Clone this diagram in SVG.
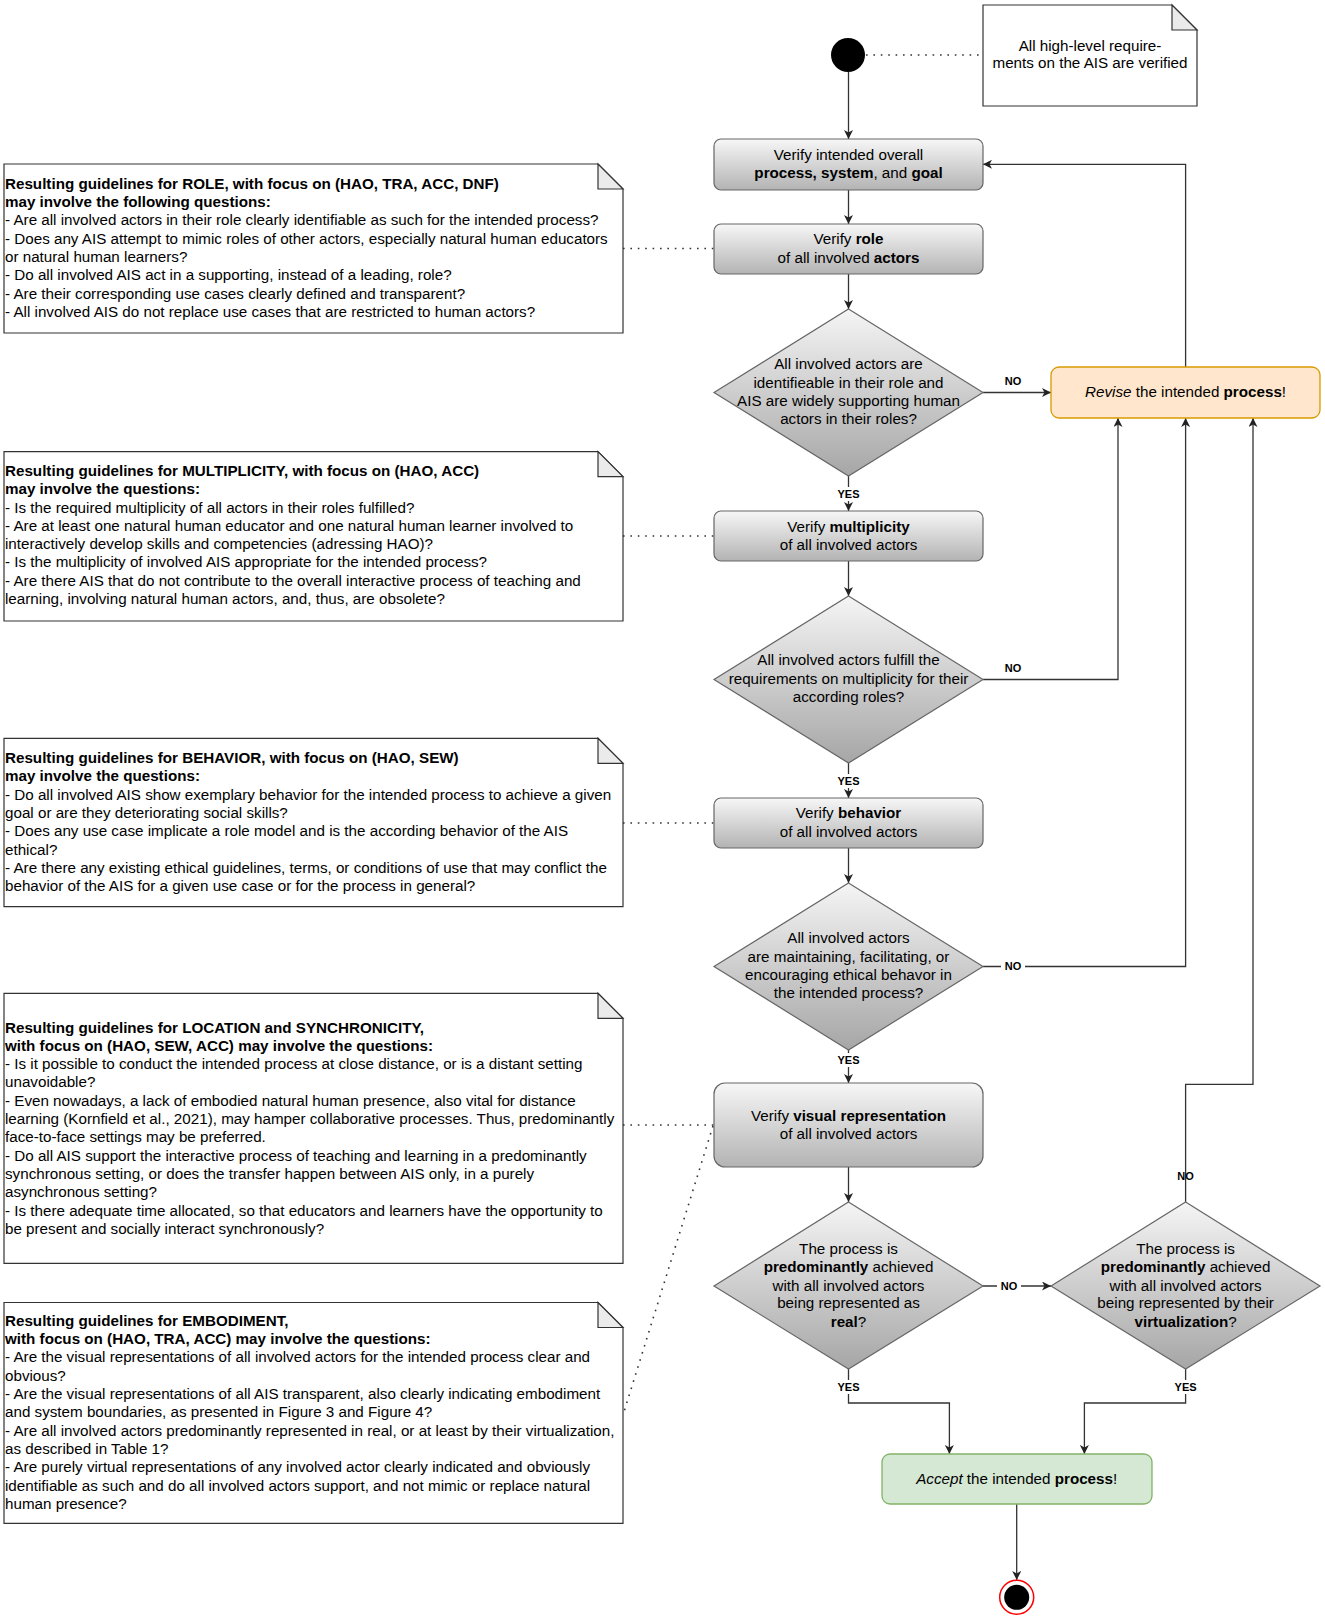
<svg xmlns="http://www.w3.org/2000/svg" width="1325" height="1619" viewBox="0 0 1325 1619">
<defs>
<linearGradient id="gBox" x1="0" y1="0" x2="0" y2="1">
<stop offset="0" stop-color="#f7f7f7"/>
<stop offset="1" stop-color="#b3b3b3"/>
</linearGradient>
<linearGradient id="gDia" x1="0" y1="0" x2="0" y2="1">
<stop offset="0" stop-color="#f5f5f5"/>
<stop offset="1" stop-color="#a6a6a6"/>
</linearGradient>
<marker id="arr" markerUnits="userSpaceOnUse" markerWidth="10" markerHeight="9" refX="9" refY="4.5" orient="auto">
<path d="M0,0 L9,4.5 L0,9 L2.5,4.5 Z" fill="#222"/>
</marker>
<style>
.t{font-family:"Liberation Sans",Arial,Helvetica,sans-serif;font-size:15.2px;fill:#000}
.c{text-anchor:middle}
.b{font-weight:bold}
.i{font-style:italic}
.lbl{font-family:"Liberation Sans",Arial,Helvetica,sans-serif;font-size:11px;font-weight:bold;text-anchor:middle;fill:#000}
.box{fill:url(#gBox);stroke:#666;stroke-width:1.2}
.dia{fill:url(#gDia);stroke:#666;stroke-width:1.2}
.note{fill:#fff;stroke:#333;stroke-width:1.2}
.fold{fill:#ebebeb;stroke:#333;stroke-width:1.2}
.conn{fill:none;stroke:#333;stroke-width:1.3}
.dot{fill:none;stroke:#333;stroke-width:1.6;stroke-dasharray:1.6 5.8}
.lb{fill:#fff}
</style>
</defs>
<rect width="1325" height="1619" fill="#fff"/>

<g id="connectors">
<path class="conn" d="M848.5,72 V139" marker-end="url(#arr)"/>
<path class="conn" d="M848.5,190 V224" marker-end="url(#arr)"/>
<path class="conn" d="M848.5,274 V309" marker-end="url(#arr)"/>
<path class="conn" d="M848.5,476 V511" marker-end="url(#arr)"/>
<path class="conn" d="M983,392.5 H1051" marker-end="url(#arr)"/>
<path class="conn" d="M1185.6,367 V164.3 H983" marker-end="url(#arr)"/>
<path class="conn" d="M848.5,561 V596" marker-end="url(#arr)"/>
<path class="conn" d="M983,679.5 H1118 V418" marker-end="url(#arr)"/>
<path class="conn" d="M848.5,763 V798" marker-end="url(#arr)"/>
<path class="conn" d="M848.5,848 V883" marker-end="url(#arr)"/>
<path class="conn" d="M983,966.5 H1185.6 V418" marker-end="url(#arr)"/>
<path class="conn" d="M848.5,1050 V1083" marker-end="url(#arr)"/>
<path class="conn" d="M848.5,1167 V1202" marker-end="url(#arr)"/>
<path class="conn" d="M983,1286 H1051" marker-end="url(#arr)"/>
<path class="conn" d="M1185.6,1202 V1084.3 H1253 V418" marker-end="url(#arr)"/>
<path class="conn" d="M848.5,1369 V1403 H949.4 V1454" marker-end="url(#arr)"/>
<path class="conn" d="M1185.6,1369 V1403 H1084.4 V1454" marker-end="url(#arr)"/>
<path class="conn" d="M1016.7,1504 V1580" marker-end="url(#arr)"/>
<path class="dot" d="M866,55 H983"/>
<path class="dot" d="M623,248.5 H714"/>
<path class="dot" d="M623,536 H714"/>
<path class="dot" d="M623,823 H714"/>
<path class="dot" d="M623,1125 H714"/>
<path class="dot" d="M713,1126 L623,1415"/>
<text class="lbl" x="1013" y="385">NO</text>
<rect class="lb" x="833" y="487" width="31" height="14"/>
<text class="lbl" x="848.5" y="498">YES</text>
<text class="lbl" x="1013" y="672">NO</text>
<rect class="lb" x="833" y="774" width="31" height="14"/>
<text class="lbl" x="848.5" y="785">YES</text>
<rect class="lb" x="1001" y="959" width="24" height="14"/>
<text class="lbl" x="1013" y="970">NO</text>
<rect class="lb" x="833" y="1053" width="31" height="14"/>
<text class="lbl" x="848.5" y="1064">YES</text>
<rect class="lb" x="997" y="1279" width="24" height="14"/>
<text class="lbl" x="1009" y="1290">NO</text>
<text class="lbl" x="1185.6" y="1180">NO</text>
<rect class="lb" x="833" y="1380" width="31" height="14"/>
<text class="lbl" x="848.5" y="1391">YES</text>
<rect class="lb" x="1170" y="1380" width="31" height="14"/>
<text class="lbl" x="1185.6" y="1391">YES</text>
</g>

<g id="start">
<circle cx="848" cy="55" r="17" fill="#000"/>
</g>

<g id="note-top">
<path class="note" d="M983,5 H1172 L1197,30 V106 H983 Z"/>
<path class="fold" d="M1172,5 V30 H1197 Z"/>
<text class="t c" x="1090" y="50.7">All high-level require-</text>
<text class="t c" x="1090" y="68">ments on the AIS are verified</text>
</g>

<g id="box-overall">
<rect class="box" x="714" y="139" width="269" height="51" rx="7"/>
<text class="t c" x="848.5" y="160">Verify intended overall</text>
<text class="t c" x="848.5" y="178.3"><tspan class="b">process, system</tspan>, and <tspan class="b">goal</tspan></text>
</g>

<g id="box-role">
<rect class="box" x="714" y="224" width="269" height="50" rx="7"/>
<text class="t c" x="848.5" y="244.3">Verify <tspan class="b">role</tspan></text>
<text class="t c" x="848.5" y="262.7">of all involved <tspan class="b">actors</tspan></text>
</g>

<g id="dec-role">
<polygon class="dia" points="848.5,309 983,392.5 848.5,476 714,392.5"/>
<text class="t c" x="848.5" y="369">All involved actors are</text>
<text class="t c" x="848.5" y="387.7">identifieable in their role and</text>
<text class="t c" x="848.5" y="406">AIS are widely supporting human</text>
<text class="t c" x="848.5" y="424.3">actors in their roles?</text>
</g>

<g id="revise">
<rect x="1051" y="367" width="269" height="51" rx="8" fill="#ffe6cc" stroke="#d79b00" stroke-width="1.3"/>
<text class="t c" x="1185.6" y="397.3"><tspan class="i">Revise</tspan> the intended <tspan class="b">process</tspan>!</text>
</g>

<g id="box-mult">
<rect class="box" x="714" y="511" width="269" height="50" rx="7"/>
<text class="t c" x="848.5" y="531.7">Verify <tspan class="b">multiplicity</tspan></text>
<text class="t c" x="848.5" y="550">of all involved actors</text>
</g>

<g id="dec-mult">
<polygon class="dia" points="848.5,596 983,679.5 848.5,763 714,679.5"/>
<text class="t c" x="848.5" y="665.3">All involved actors fulfill the</text>
<text class="t c" x="848.5" y="684">requirements on multiplicity for their</text>
<text class="t c" x="848.5" y="702.3">according roles?</text>
</g>

<g id="box-beh">
<rect class="box" x="714" y="798" width="269" height="50" rx="7"/>
<text class="t c" x="848.5" y="818.3">Verify <tspan class="b">behavior</tspan></text>
<text class="t c" x="848.5" y="836.7">of all involved actors</text>
</g>

<g id="dec-beh">
<polygon class="dia" points="848.5,883 983,966.5 848.5,1050 714,966.5"/>
<text class="t c" x="848.5" y="943.3">All involved actors</text>
<text class="t c" x="848.5" y="962">are maintaining, facilitating, or</text>
<text class="t c" x="848.5" y="980.3">encouraging ethical behavor in</text>
<text class="t c" x="848.5" y="998.3">the intended process?</text>
</g>

<g id="box-vis">
<rect class="box" x="714" y="1083" width="269" height="84" rx="11"/>
<text class="t c" x="848.5" y="1120.7">Verify <tspan class="b">visual representation</tspan></text>
<text class="t c" x="848.5" y="1139">of all involved actors</text>
</g>

<g id="dec-real">
<polygon class="dia" points="848.5,1202 983,1286 848.5,1369 714,1286"/>
<text class="t c" x="848.5" y="1254">The process is</text>
<text class="t c" x="848.5" y="1272.3"><tspan class="b">predominantly</tspan> achieved</text>
<text class="t c" x="848.5" y="1290.7">with all involved actors</text>
<text class="t c" x="848.5" y="1308.3">being represented as</text>
<text class="t c" x="848.5" y="1326.7"><tspan class="b">real</tspan>?</text>
</g>

<g id="dec-virt">
<polygon class="dia" points="1185.6,1202 1320,1286 1185.6,1369 1051,1286"/>
<text class="t c" x="1185.6" y="1254">The process is</text>
<text class="t c" x="1185.6" y="1272.3"><tspan class="b">predominantly</tspan> achieved</text>
<text class="t c" x="1185.6" y="1290.7">with all involved actors</text>
<text class="t c" x="1185.6" y="1308.3">being represented by their</text>
<text class="t c" x="1185.6" y="1326.7"><tspan class="b">virtualization</tspan>?</text>
</g>

<g id="accept">
<rect x="882" y="1454" width="270" height="50" rx="8" fill="#d5e8d4" stroke="#82b366" stroke-width="1.3"/>
<text class="t c" x="1016.7" y="1484.3"><tspan class="i">Accept</tspan> the intended <tspan class="b">process</tspan>!</text>
</g>

<g id="end">
<circle cx="1016.7" cy="1597.3" r="17" fill="#fff" stroke="#ff0000" stroke-width="1.5"/>
<circle cx="1016.7" cy="1597.3" r="12.5" fill="#000"/>
</g>

<g id="note-role">
<path class="note" d="M4,164 H598 L623,189 V333 H4 Z"/>
<path class="fold" d="M598,164 V189 H623 Z"/>
<text class="t b" x="5" y="188.8">Resulting guidelines for ROLE, with focus on (HAO, TRA, ACC, DNF)</text>
<text class="t b" x="5" y="207.1">may involve the following questions:</text>
<text class="t" x="5" y="225.4">- Are all involved actors in their role clearly identifiable as such for the intended process?</text>
<text class="t" x="5" y="243.7">- Does any AIS attempt to mimic roles of other actors, especially natural human educators</text>
<text class="t" x="5" y="262">or natural human learners?</text>
<text class="t" x="5" y="280.3">- Do all involved AIS act in a supporting, instead of a leading, role?</text>
<text class="t" x="5" y="298.6">- Are their corresponding use cases clearly defined and transparent?</text>
<text class="t" x="5" y="316.9">- All involved AIS do not replace use cases that are restricted to human actors?</text>
</g>

<g id="note-mult">
<path class="note" d="M4,451.7 H598 L623,476.7 V621 H4 Z"/>
<path class="fold" d="M598,451.7 V476.7 H623 Z"/>
<text class="t b" x="5" y="475.9">Resulting guidelines for MULTIPLICITY, with focus on (HAO, ACC)</text>
<text class="t b" x="5" y="494.2">may involve the questions:</text>
<text class="t" x="5" y="512.5">- Is the required multiplicity of all actors in their roles fulfilled?</text>
<text class="t" x="5" y="530.8">- Are at least one natural human educator and one natural human learner involved to</text>
<text class="t" x="5" y="549.1">interactively develop skills and competencies (adressing HAO)?</text>
<text class="t" x="5" y="567.4">- Is the multiplicity of involved AIS appropriate for the intended process?</text>
<text class="t" x="5" y="585.7">- Are there AIS that do not contribute to the overall interactive process of teaching and</text>
<text class="t" x="5" y="604">learning, involving natural human actors, and, thus, are obsolete?</text>
</g>

<g id="note-beh">
<path class="note" d="M4,738.3 H598 L623,763.3 V906.7 H4 Z"/>
<path class="fold" d="M598,738.3 V763.3 H623 Z"/>
<text class="t b" x="5" y="763">Resulting guidelines for BEHAVIOR, with focus on (HAO, SEW)</text>
<text class="t b" x="5" y="781.3">may involve the questions:</text>
<text class="t" x="5" y="799.6">- Do all involved AIS show exemplary behavior for the intended process to achieve a given</text>
<text class="t" x="5" y="817.9">goal or are they deteriorating social skills?</text>
<text class="t" x="5" y="836.2">- Does any use case implicate a role model and is the according behavior of the AIS</text>
<text class="t" x="5" y="854.5">ethical?</text>
<text class="t" x="5" y="872.8">- Are there any existing ethical guidelines, terms, or conditions of use that may conflict the</text>
<text class="t" x="5" y="891.1">behavior of the AIS for a given use case or for the process in general?</text>
</g>

<g id="note-loc">
<path class="note" d="M4,993.3 H598 L623,1018.3 V1263.3 H4 Z"/>
<path class="fold" d="M598,993.3 V1018.3 H623 Z"/>
<text class="t b" x="5" y="1032.5">Resulting guidelines for LOCATION and SYNCHRONICITY,</text>
<text class="t b" x="5" y="1050.8">with focus on (HAO, SEW, ACC) may involve the questions:</text>
<text class="t" x="5" y="1069.1">- Is it possible to conduct the intended process at close distance, or is a distant setting</text>
<text class="t" x="5" y="1087.4">unavoidable?</text>
<text class="t" x="5" y="1105.7">- Even nowadays, a lack of embodied natural human presence, also vital for distance</text>
<text class="t" x="5" y="1124">learning (Kornfield et al., 2021), may hamper collaborative processes. Thus, predominantly</text>
<text class="t" x="5" y="1142.3">face-to-face settings may be preferred.</text>
<text class="t" x="5" y="1160.6">- Do all AIS support the interactive process of teaching and learning in a predominantly</text>
<text class="t" x="5" y="1178.9">synchronous setting, or does the transfer happen between AIS only, in a purely</text>
<text class="t" x="5" y="1197.2">asynchronous setting?</text>
<text class="t" x="5" y="1215.5">- Is there adequate time allocated, so that educators and learners have the opportunity to</text>
<text class="t" x="5" y="1233.8">be present and socially interact synchronously?</text>
</g>

<g id="note-emb">
<path class="note" d="M4,1302.5 H598 L623,1327.5 V1523.3 H4 Z"/>
<path class="fold" d="M598,1302.5 V1327.5 H623 Z"/>
<text class="t b" x="5" y="1325.8">Resulting guidelines for EMBODIMENT,</text>
<text class="t b" x="5" y="1344.1">with focus on (HAO, TRA, ACC) may involve the questions:</text>
<text class="t" x="5" y="1362.4">- Are the visual representations of all involved actors for the intended process clear and</text>
<text class="t" x="5" y="1380.7">obvious?</text>
<text class="t" x="5" y="1399">- Are the visual representations of all AIS transparent, also clearly indicating embodiment</text>
<text class="t" x="5" y="1417.3">and system boundaries, as presented in Figure 3 and Figure 4?</text>
<text class="t" x="5" y="1435.6">- Are all involved actors predominantly represented in real, or at least by their virtualization,</text>
<text class="t" x="5" y="1453.9">as described in Table 1?</text>
<text class="t" x="5" y="1472.2">- Are purely virtual representations of any involved actor clearly indicated and obviously</text>
<text class="t" x="5" y="1490.5">identifiable as such and do all involved actors support, and not mimic or replace natural</text>
<text class="t" x="5" y="1508.8">human presence?</text>
</g>
</svg>
